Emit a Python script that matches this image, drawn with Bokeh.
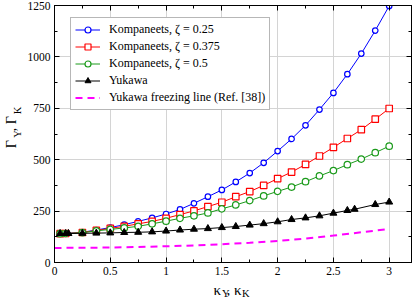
import math
from bokeh.plotting import figure
from bokeh.layouts import row, column
from bokeh.models import (Range1d, LinearAxis, Legend, LegendItem, Label,
                          SingleIntervalTicker, CustomJSTickFormatter)
from bokeh.embed import file_html
from bokeh.resources import INLINE

# ---------------- data ----------------
komp_x = [0.05, 0.1, 0.25, 0.375, 0.5, 0.625, 0.75, 0.875, 1.0, 1.125, 1.25, 1.375,
          1.5, 1.625, 1.75, 1.875, 2.0, 2.125, 2.25, 2.375, 2.5, 2.625, 2.75, 2.875, 3.0]
komp_025 = [140, 141, 147, 158, 170, 184, 200, 217, 236, 258, 288, 320,
            353, 392, 435, 485, 542, 601, 667, 744, 825, 916, 1016, 1128, 1248]
komp_0375 = [140, 141, 146, 156, 166, 176, 188, 200, 215, 233, 251, 272,
             293, 320, 345, 375, 408, 440, 477, 518, 560, 603, 646, 697, 749]
komp_05 = [140, 141, 145, 154, 161, 168, 176, 188, 201, 215, 227, 241,
           261, 280, 301, 324, 346, 367, 393, 421, 447, 476, 503, 534, 566]

yuk_x = [0.05, 0.1, 0.125, 0.25, 0.375, 0.5, 0.625, 0.75, 0.875, 1.0, 1.125, 1.25, 1.375,
         1.5, 1.625, 1.75, 1.875, 2.0, 2.125, 2.25, 2.375, 2.5, 2.625, 2.69, 2.875, 3.0]
yuk_y = [141, 141, 141, 142, 143, 144, 146, 147, 149, 153, 158, 162, 165,
         170, 175, 182, 189, 198, 209, 217, 227, 240, 253, 259, 282, 294]

freeze_x = [0, 0.25, 0.5, 0.75, 1.0, 1.25, 1.5, 1.75, 2.0, 2.25, 2.5, 2.75, 3.0]
freeze_y = [71, 71.5, 73, 75.5, 79, 83, 89, 96, 105, 116, 131, 147, 163]

x_ticks = [0, 0.5, 1, 1.5, 2, 2.5, 3]
x_tick_labels = ["0", "0.5", "1", "1.5", "2", "2.5", "3"]

legend_labels = ["Kompaneets, ζ = 0.25", "Kompaneets, ζ = 0.375", "Kompaneets, ζ = 0.5",
                 "Yukawa", "Yukawa freezing line (Ref. [38])"]

SERIF = "Liberation Serif"
TOTAL_W, TOTAL_H = 416, 299
YLAB_W = 24
MAIN_H = 280

# ---------------- main figure ----------------
p = figure(width=TOTAL_W - YLAB_W, height=MAIN_H, output_backend="svg",
           toolbar_location=None,
           x_range=Range1d(0, 3.2), y_range=Range1d(0, 1250),
           min_border_left=52 - YLAB_W, min_border_right=5, min_border_top=5,
           min_border_bottom=18)
p.outline_line_color = "black"
p.outline_line_width = 1
p.background_fill_color = "white"
p.border_fill_color = "white"

xt = SingleIntervalTicker(interval=0.5, num_minor_ticks=2)
yt = SingleIntervalTicker(interval=250, num_minor_ticks=2)

for ax in p.xaxis:
    ax.ticker = xt
    ax.major_label_overrides = {t: l for t, l in zip(x_ticks, x_tick_labels)}
for ax in p.yaxis:
    ax.ticker = yt

for ax in list(p.xaxis) + list(p.yaxis):
    ax.axis_line_color = "black"
    ax.major_tick_line_color = "black"
    ax.minor_tick_line_color = "black"
    ax.major_tick_in = 5
    ax.major_tick_out = 0
    ax.minor_tick_in = 3
    ax.minor_tick_out = 0
    ax.major_label_text_font = SERIF
    ax.major_label_text_font_size = "11.5px"
    ax.major_label_text_color = "black"
    ax.major_label_standoff = 4

blank = CustomJSTickFormatter(code="return ''")
for loc, tk in (("right", yt), ("above", xt)):
    ax = LinearAxis(ticker=tk, formatter=blank, major_label_text_font_size="0px",
                    major_label_standoff=0, major_tick_in=5, major_tick_out=0,
                    minor_tick_in=3, minor_tick_out=0, axis_line_color="black",
                    major_tick_line_color="black", minor_tick_line_color="black")
    p.add_layout(ax, loc)

p.xgrid.ticker = xt
p.ygrid.ticker = yt
p.xgrid.grid_line_color = "#d4d4d4"
p.ygrid.grid_line_color = "#d4d4d4"

# ---------------- series ----------------
BLUE, RED, GREEN, MAG = "#0000ff", "#ff0000", "#1a9a1a", "#ff00ff"

l1 = p.line(komp_x, komp_025, line_color=BLUE, line_width=1)
s1 = p.scatter(komp_x, komp_025, marker="circle", size=5.5, line_color=BLUE,
               fill_color="white", line_width=1.2)
l2 = p.line(komp_x, komp_0375, line_color=RED, line_width=1)
s2 = p.scatter(komp_x, komp_0375, marker="square", size=6.5, line_color=RED,
               fill_color="white", line_width=1.2)
l3 = p.line(komp_x, komp_05, line_color=GREEN, line_width=1)
s3 = p.scatter(komp_x, komp_05, marker="circle", size=6.5, line_color=GREEN,
               fill_color="white", line_width=1.2)
l4 = p.line(yuk_x, yuk_y, line_color="black", line_width=1)
s4 = p.scatter(yuk_x, yuk_y, marker="triangle", size=7, line_color="black",
               fill_color="black")
l5 = p.line(freeze_x, freeze_y, line_color=MAG, line_width=2, line_dash="7 5")

legend = Legend(items=[
    LegendItem(label=legend_labels[0], renderers=[l1, s1]),
    LegendItem(label=legend_labels[1], renderers=[l2, s2]),
    LegendItem(label=legend_labels[2], renderers=[l3, s3]),
    LegendItem(label=legend_labels[3], renderers=[l4, s4]),
    LegendItem(label=legend_labels[4], renderers=[l5]),
], location=(16, 152), margin=0, padding=4, spacing=2,
    label_height=15, glyph_height=15, glyph_width=25, label_standoff=9,
    label_text_font=SERIF, label_text_font_size="12px", label_text_color="black",
    border_line_color="#707070", border_line_width=1,
    background_fill_color="white", background_fill_alpha=1.0)
p.add_layout(legend)

# ---------------- axis titles (separate text panels, pixel coordinates) ----------------
def text_panel(w, h):
    f = figure(width=w, height=h, output_backend="svg", toolbar_location=None,
               x_range=Range1d(0, w), y_range=Range1d(0, h),
               x_axis_location=None, y_axis_location=None,
               min_border=0, outline_line_color=None)
    f.xgrid.visible = False
    f.ygrid.visible = False
    f.background_fill_color = "white"
    f.border_fill_color = "white"
    return f

def lab(fig, text, x, y, size, angle=0.0):
    fig.add_layout(Label(x=x, y=y, text=text, text_font=SERIF, text_font_size=size,
                         text_color="black", text_align="left",
                         text_baseline="alphabetic", angle=angle))

# y title panel (y measured up from the panel bottom)
yfig = text_panel(YLAB_W, MAIN_H)
R = math.pi / 2
lab(yfig, "Γ", 10.5, MAIN_H - 155.5, "14px", R)
lab(yfig, "Y", 17, MAIN_H - 144, "10.5px", R)
lab(yfig, ", Γ", 10.5, MAIN_H - 137, "14px", R)
lab(yfig, "K", 17, MAIN_H - 118.5, "10.5px", R)

# x title panel
XLAB_H = TOTAL_H - MAIN_H
xfig = text_panel(TOTAL_W, XLAB_H)
lab(xfig, "κ", 213, XLAB_H - 289 + MAIN_H, "15px")
lab(xfig, "Y", 221.5, XLAB_H - 293 + MAIN_H, "10.5px")
lab(xfig, ", κ", 226, XLAB_H - 289 + MAIN_H, "15px")
lab(xfig, "K", 241.5, XLAB_H - 293 + MAIN_H, "10.5px")

layout = column(row(yfig, p, spacing=0), xfig, spacing=0)
open("out.html", "w").write(file_html(layout, INLINE))
